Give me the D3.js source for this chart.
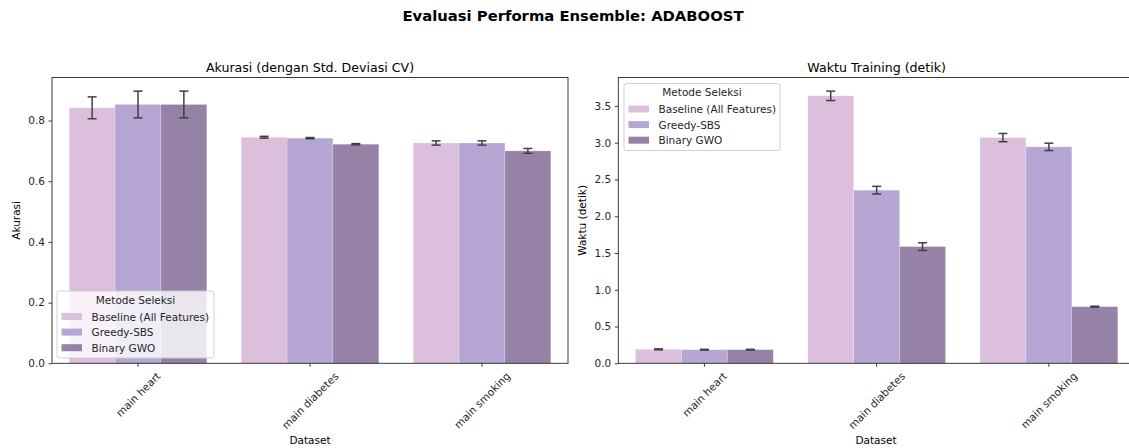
<!DOCTYPE html>
<html>
<head>
<meta charset="utf-8">
<script src="https://cdn.jsdelivr.net/npm/d3@7/dist/d3.min.js"></script>
<style>
  html, body { margin: 0; padding: 0; background: #fff; }
  svg { display: block; font-family: "DejaVu Sans", sans-serif; }
</style>
</head>
<body>
<svg id="chart" width="1129" height="448"></svg>
<script>
// Datasets and feature-selection methods
const datasets = ["main heart", "main diabetes", "main smoking"];
const methods = ["Baseline (All Features)", "Greedy-SBS", "Binary GWO"];
const colors = ["#dbbfdd", "#b6a6d4", "#9582a6"];

// Accuracy (mean of CV) per method, one value per dataset
const accBaseline = [0.842, 0.745, 0.726];
const accGreedy   = [0.853, 0.742, 0.726];
const accGwo      = [0.853, 0.722, 0.700];
// Accuracy CV standard deviation
const accStdBaseline = [0.036, 0.003, 0.007];
const accStdGreedy   = [0.044, 0.002, 0.007];
const accStdGwo      = [0.044, 0.002, 0.008];

// Training time (seconds)
const timeBaseline = [0.190, 3.637, 3.069];
const timeGreedy   = [0.185, 2.354, 2.943];
const timeGwo      = [0.185, 1.587, 0.770];
const timeStdBaseline = [0.006, 0.064, 0.056];
const timeStdGreedy   = [0.005, 0.052, 0.050];
const timeStdGwo      = [0.005, 0.052, 0.006];

const accTicks  = [0.0, 0.2, 0.4, 0.6, 0.8];
const timeTicks = [0.0, 0.5, 1.0, 1.5, 2.0, 2.5, 3.0, 3.5];

const svg = d3.select("#chart");
const AX = "#262626";
const FS = 10.5;

svg.append("text")
  .attr("x", 573).attr("y", 21)
  .attr("text-anchor", "middle")
  .attr("font-size", 14.8).attr("font-weight", "bold")
  .attr("fill", "#000")
  .text("Evaluasi Performa Ensemble: ADABOOST");

function panel(opts) {
  const { left, right, top, bottom, title, ylabel, means, stds, ticks, tickFmt, legend } = opts;
  const g = svg.append("g");

  const x = d3.scaleBand().domain(datasets).range([left, right]).paddingInner(0).paddingOuter(0);
  const inner = d3.scaleBand().domain(methods).range([0, x.bandwidth() * 0.8]);
  const off = x.bandwidth() * 0.1;

  const yMax = d3.max(methods.map((m, i) => d3.max(means[i].map((v, j) => v + stds[i][j])))) * 1.05;
  const y = d3.scaleLinear().domain([0, yMax]).range([bottom, top]);

  // bars
  methods.forEach((m, i) => {
    g.selectAll(null).data(datasets).enter().append("rect")
      .attr("x", d => x(d) + off + inner(m))
      .attr("y", (d, j) => y(means[i][j]))
      .attr("width", inner.bandwidth())
      .attr("height", (d, j) => y(0) - y(means[i][j]))
      .attr("fill", colors[i])
      .attr("stroke", "#ffffff").attr("stroke-opacity", 0.35).attr("stroke-width", 0.6);
  });

  // error bars
  methods.forEach((m, i) => {
    datasets.forEach((d, j) => {
      const cx = x(d) + off + inner(m) + inner.bandwidth() / 2;
      const y1 = y(means[i][j] + stds[i][j]);
      const y0 = y(means[i][j] - stds[i][j]);
      const eg = g.append("g").attr("stroke", "#404040").attr("stroke-width", 1.5);
      eg.append("line").attr("x1", cx).attr("x2", cx).attr("y1", y0).attr("y2", y1);
      eg.append("line").attr("x1", cx - 4.5).attr("x2", cx + 4.5).attr("y1", y0).attr("y2", y0);
      eg.append("line").attr("x1", cx - 4.5).attr("x2", cx + 4.5).attr("y1", y1).attr("y2", y1);
    });
  });

  // frame
  g.append("rect")
    .attr("x", left).attr("y", top).attr("width", right - left).attr("height", bottom - top)
    .attr("fill", "none").attr("stroke", AX).attr("stroke-width", 0.9);

  // y axis
  const yAxis = d3.axisLeft(y).tickValues(ticks).tickFormat(tickFmt).tickSize(3.5).tickPadding(3.5);
  const ya = g.append("g").attr("transform", `translate(${left},0)`).call(yAxis);
  ya.select(".domain").remove();
  ya.selectAll(".tick line").attr("stroke", AX).attr("stroke-width", 0.9);
  ya.selectAll(".tick text").attr("font-size", FS).attr("fill", AX).attr("font-family", "DejaVu Sans");

  // x axis
  const xAxis = d3.axisBottom(x).tickSize(3.5).tickFormat(() => "");
  const xa = g.append("g").attr("transform", `translate(0,${bottom})`).call(xAxis);
  xa.select(".domain").remove();
  xa.selectAll(".tick line").attr("stroke", AX).attr("stroke-width", 0.9);

  // rotated category labels, centred under each tick
  datasets.forEach(d => {
    const cx = x(d) + x.bandwidth() / 2;
    const t = g.append("text")
      .attr("font-size", FS).attr("fill", AX)
      .attr("text-anchor", "middle").attr("dominant-baseline", "central")
      .text(d);
    const L = t.node().getComputedTextLength();
    const h = (L + FS) * Math.SQRT1_2;
    t.attr("transform", `translate(${cx},${bottom + 7 + h / 2}) rotate(-45)`);
  });

  // axis labels
  g.append("text")
    .attr("x", opts.xlabelX)
    .attr("y", 444).attr("text-anchor", "middle")
    .attr("font-size", FS).attr("fill", "#000")
    .text("Dataset");
  g.append("text")
    .attr("transform", `translate(${opts.ylabelX},${(top + bottom) / 2}) rotate(-90)`)
    .attr("text-anchor", "middle")
    .attr("font-size", FS).attr("fill", "#000")
    .text(ylabel);

  // subplot title
  g.append("text")
    .attr("x", (left + right) / 2).attr("y", top - 6)
    .attr("text-anchor", "middle")
    .attr("font-size", 12.6).attr("fill", "#000")
    .text(title);

  // legend
  const lg = g.append("g").attr("transform", `translate(${legend.x},${legend.y})`);
  lg.append("rect")
    .attr("width", legend.w).attr("height", legend.h).attr("rx", 2.5)
    .attr("fill", "#fff").attr("fill-opacity", 0.8)
    .attr("stroke", "#cccccc").attr("stroke-width", 0.9);
  lg.append("text")
    .attr("x", legend.w / 2).attr("y", 12.5).attr("text-anchor", "middle")
    .attr("font-size", FS).attr("fill", AX).text("Metode Seleksi");
  methods.forEach((m, i) => {
    const ry = 25.5 + i * 15.6;
    lg.append("rect").attr("x", 4.5).attr("y", ry - 3.5).attr("width", 20.5).attr("height", 7)
      .attr("fill", colors[i]);
    lg.append("text").attr("x", 34.5).attr("y", ry).attr("dominant-baseline", "central")
      .attr("font-size", FS).attr("fill", AX).text(m);
  });
}

panel({
  left: 52, right: 568, top: 77.5, bottom: 363.3,
  title: "Akurasi (dengan Std. Deviasi CV)",
  ylabel: "Akurasi", ylabelX: 20, xlabelX: 310,
  means: [accBaseline, accGreedy, accGwo],
  stds: [accStdBaseline, accStdGreedy, accStdGwo],
  ticks: accTicks, tickFmt: d3.format(".1f"),
  legend: { x: 57, y: 291, w: 157, h: 67 }
});

panel({
  left: 618.3, right: 1135, top: 77.5, bottom: 363.3,
  title: "Waktu Training (detik)",
  ylabel: "Waktu (detik)", ylabelX: 586, xlabelX: 876,
  means: [timeBaseline, timeGreedy, timeGwo],
  stds: [timeStdBaseline, timeStdGreedy, timeStdGwo],
  ticks: timeTicks, tickFmt: d3.format(".1f"),
  legend: { x: 624, y: 83.5, w: 156, h: 67 }
});
</script>
</body>
</html>
